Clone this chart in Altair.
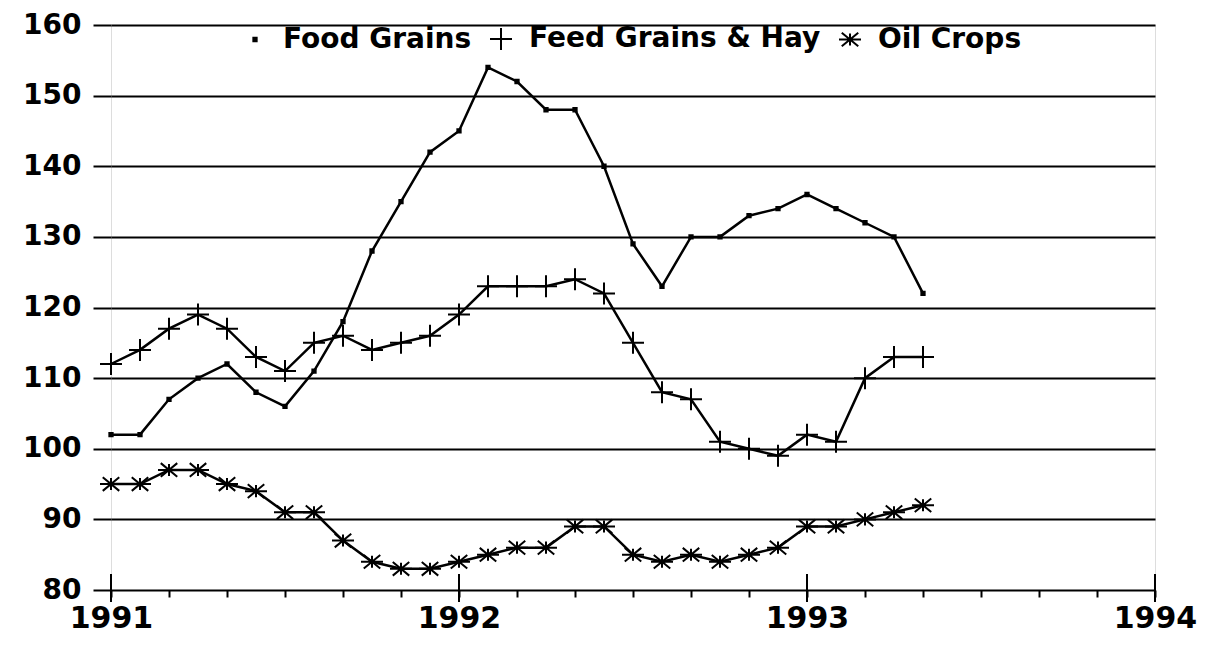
import altair as alt
import pandas as pd

# ---- data ----
series_names = ["Food Grains", "Feed Grains & Hay", "Oil Crops"]
start_year = 1991
food_grains = [102, 102, 107, 110, 112, 108, 106, 111, 118, 128, 135, 142,
               145, 154, 152, 148, 148, 140, 129, 123, 130, 130, 133, 134,
               136, 134, 132, 130, 122]
feed_grains_hay = [112, 114, 117, 119, 117, 113, 111, 115, 116, 114, 115, 116,
                   119, 123, 123, 123, 124, 122, 115, 108, 107, 101, 100, 99,
                   102, 101, 110, 113, 113]
oil_crops = [95, 95, 97, 97, 95, 94, 91, 91, 87, 84, 83, 83,
             84, 85, 86, 86, 89, 89, 85, 84, 85, 84, 85, 86,
             89, 89, 90, 91, 92]
year_ticks = [1991, 1992, 1993, 1994]
y_ticks = [80, 90, 100, 110, 120, 130, 140, 150, 160]

rows = []
for name, vals in zip(series_names, [food_grains, feed_grains_hay, oil_crops]):
    for i, v in enumerate(vals):
        rows.append({"t": start_year + i / 12.0, "value": v, "series": name})
df = pd.DataFrame(rows)
month_ticks = [start_year + i / 12.0 for i in range(37)]
years_df = pd.DataFrame({"t": year_ticks})

FONT = "DejaVu Sans"
W, H = 1044, 565

sq_path = "M-0.15,-0.15H0.15V0.15H-0.15Z M-0.15,-0.05H0.15 M-0.15,0.05H0.15"
plus_path = "M-1,0H1M0,-1V1"
ast_path = "M-1,0H1M-0.75,-0.62L0.75,0.62M-0.75,0.62L0.75,-0.62M0,-0.55V0.55"

x_enc = alt.X(
    "t:Q",
    scale=alt.Scale(domain=[1991, 1994], nice=False, zero=False),
    axis=alt.Axis(
        values=month_ticks,
        labelExpr="abs(datum.value - round(datum.value)) < 0.001 ? toString(round(datum.value)) : ''",
        tickSize=7, tickWidth=2, tickColor="black",
        domain=False, grid=False, title=None,
        labelFont=FONT, labelFontSize=30, labelFontWeight="bold",
        labelColor="black", labelPadding=6,
        labelOverlap=False, labelFlush=False,
    ),
)
y_enc = alt.Y(
    "value:Q",
    scale=alt.Scale(domain=[80, 160], nice=False, zero=False),
    axis=alt.Axis(
        values=y_ticks, tickSize=18, tickWidth=2, tickColor="black",
        grid=True, gridColor="black", gridWidth=2, gridOpacity=1,
        domain=False, title=None,
        labelFont=FONT, labelFontSize=28, labelFontWeight="bold",
        labelColor="black", labelPadding=12,
    ),
)

lines = alt.Chart(df).mark_line(color="black", strokeWidth=2.5).encode(
    x=x_enc, y=y_enc, detail="series:N"
)

points = alt.Chart(df).mark_point(
    filled=False, color="black", strokeWidth=2, size=484, opacity=1
).encode(
    x=x_enc,
    y=y_enc,
    shape=alt.Shape(
        "series:N",
        scale=alt.Scale(domain=series_names, range=[sq_path, plus_path, ast_path]),
        legend=alt.Legend(
            title=None, orient="none", legendX=130, legendY=0,
            direction="horizontal", columns=3,
            labelFont=FONT, labelFontSize=28, labelFontWeight="bold",
            labelColor="black", labelLimit=600, labelOffset=14,
            symbolSize=484, symbolStrokeWidth=2, symbolStrokeColor="black",
            symbolFillColor="transparent", columnPadding=14, padding=0,
        ),
    ),
)

year_marks = alt.Chart(years_df).mark_rule(color="black", strokeWidth=2).encode(
    x=alt.X("t:Q"),
    y=alt.value(H - 16),
    y2=alt.value(H + 12),
)

chart = (
    alt.layer(lines, points, year_marks)
    .properties(
        width=W, height=H,
        autosize=alt.AutoSizeParams(type="none"),
        padding={"left": 103, "top": 17, "right": 45, "bottom": 48},
    )
    .configure_view(stroke="black", strokeWidth=2)
    .configure(background="white")
)

chart.save("out.html", embed_options={"renderer": "svg", "actions": False})
